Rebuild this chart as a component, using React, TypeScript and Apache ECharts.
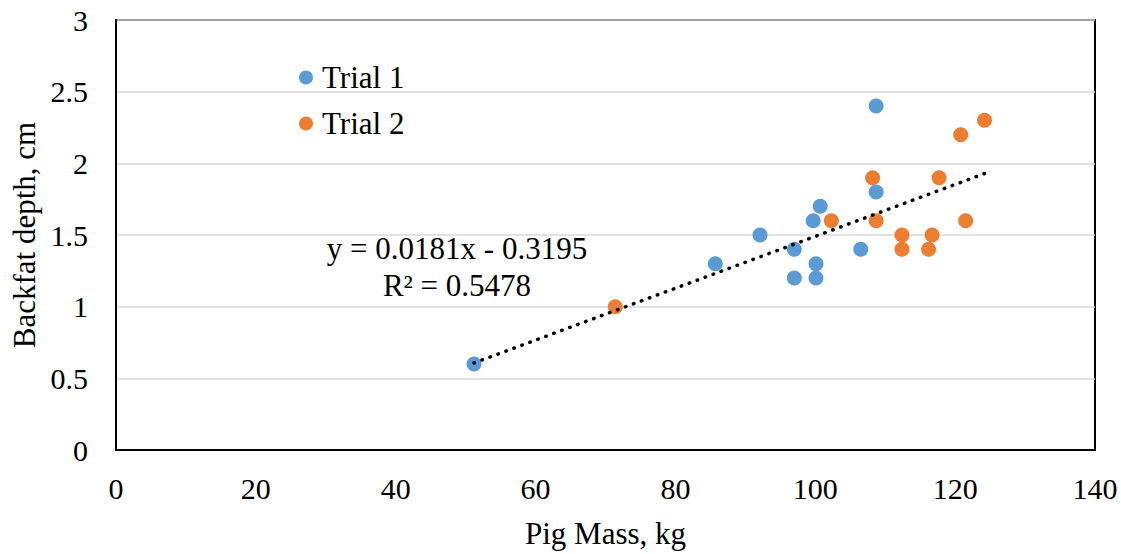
import React, { useEffect, useRef } from "react";
import * as echarts from "echarts";

// Pig mass (kg) and backfat depth (cm) for each trial
const trial1Mass = [51.2, 85.7, 92.1, 97.0, 97.0, 100.1, 100.1, 99.7, 100.7, 106.5, 108.7, 108.7];
const trial1Backfat = [0.6, 1.3, 1.5, 1.4, 1.2, 1.3, 1.2, 1.6, 1.7, 1.4, 1.8, 2.4];
const trial2Mass = [71.4, 102.3, 108.2, 108.7, 112.4, 112.4, 116.2, 116.7, 117.7, 120.8, 121.5, 124.2];
const trial2Backfat = [1.0, 1.6, 1.9, 1.6, 1.5, 1.4, 1.4, 1.5, 1.9, 2.2, 1.6, 2.3];

// Linear trendline over both trials
const slope = 0.0181;
const intercept = -0.3195;
const rSquared = 0.5478;

const seriesNames = ["Trial 1", "Trial 2"];
const seriesColors = ["#5B9BD5", "#ED7D31"];

const FONT = "Liberation Serif";

export default function App() {
  const ref = useRef<HTMLDivElement>(null);

  useEffect(() => {
    if (!ref.current) return;
    const chart = echarts.init(ref.current, undefined, { renderer: "svg" });

    const pts1 = trial1Mass.map((x, i) => [x, trial1Backfat[i]]);
    const pts2 = trial2Mass.map((x, i) => [x, trial2Backfat[i]]);
    const allX = [...trial1Mass, ...trial2Mass];
    const xMin = Math.min(...allX);
    const xMax = Math.max(...allX);
    const trend = [
      [xMin, slope * xMin + intercept],
      [xMax, slope * xMax + intercept],
    ];

    const interceptText =
      intercept < 0 ? `- ${Math.abs(intercept).toFixed(4)}` : `+ ${intercept.toFixed(4)}`;

    // Tick labels go through rich text so they pick up the serif face
    const tickRich = {
      t: { fontFamily: FONT, fontSize: 30, color: "#000" },
    };

    chart.setOption({
      animation: false,
      backgroundColor: "#ffffff",
      textStyle: { fontFamily: FONT, color: "#000" },
      grid: {
        left: 116,
        top: 20,
        right: 26,
        bottom: 101,
        show: true,
        borderColor: "#000",
        borderWidth: 2,
        backgroundColor: "transparent",
      },
      legend: {
        orient: "vertical",
        left: 294,
        top: 57,
        itemWidth: 14,
        itemHeight: 14,
        itemGap: 15,
        icon: "circle",
        data: seriesNames,
        textStyle: {
          fontFamily: FONT,
          fontSize: 31,
          color: "#000",
          padding: [0, 0, 0, 4],
        },
      },
      xAxis: {
        type: "value",
        min: 0,
        max: 140,
        interval: 20,
        name: "Pig Mass, kg",
        nameLocation: "middle",
        nameGap: 68,
        nameTextStyle: { fontFamily: FONT, fontSize: 31, color: "#000" },
        axisLine: { show: true, lineStyle: { color: "#000", width: 2 } },
        axisTick: { show: false },
        axisLabel: {
          fontFamily: FONT,
          fontSize: 30,
          color: "#000",
          margin: 23,
          formatter: (v: number) => `{t|${v}}`,
          rich: tickRich,
        },
        splitLine: { show: false },
      },
      yAxis: {
        type: "value",
        min: 0,
        max: 3,
        interval: 0.5,
        name: "Backfat depth, cm",
        nameLocation: "middle",
        nameGap: 74,
        nameTextStyle: { fontFamily: FONT, fontSize: 31, color: "#000" },
        axisLine: { show: true, lineStyle: { color: "#000", width: 2 } },
        axisTick: { show: false },
        axisLabel: {
          fontFamily: FONT,
          fontSize: 30,
          color: "#000",
          margin: 28,
          formatter: (v: number) => `{t|${v}}`,
          rich: tickRich,
        },
        splitLine: { show: true, lineStyle: { color: "#d9d9d9", width: 1.5 } },
      },
      series: [
        {
          name: seriesNames[0],
          type: "scatter",
          data: pts1,
          symbol: "circle",
          symbolSize: 15,
          itemStyle: { color: seriesColors[0], opacity: 1 },
          z: 2,
        },
        {
          name: seriesNames[1],
          type: "scatter",
          data: pts2,
          symbol: "circle",
          symbolSize: 15,
          itemStyle: { color: seriesColors[1], opacity: 1 },
          z: 2,
        },
        {
          name: "Linear trend",
          type: "line",
          data: trend,
          symbol: "none",
          silent: true,
          z: 3,
          lineStyle: {
            color: "#000",
            width: 3.5,
            type: [0.5, 8],
            cap: "round",
          },
        },
      ],
      graphic: [
        {
          type: "text",
          x: 457,
          y: 248,
          style: {
            text: `y = ${slope}x ${interceptText}`,
            fontFamily: FONT,
            fontSize: 31,
            fill: "#000",
            align: "center",
            verticalAlign: "middle",
            textAlign: "center",
            textVerticalAlign: "middle",
          },
        },
        {
          type: "text",
          x: 457,
          y: 285,
          style: {
            text: `R² = ${rSquared}`,
            fontFamily: FONT,
            fontSize: 31,
            fill: "#000",
            align: "center",
            verticalAlign: "middle",
            textAlign: "center",
            textVerticalAlign: "middle",
          },
        },
      ],
    });

    return () => chart.dispose();
  }, []);

  return (
    <div
      ref={ref}
      style={{ position: "fixed", left: 0, top: 0, width: 1121, height: 554 }}
    />
  );
}
